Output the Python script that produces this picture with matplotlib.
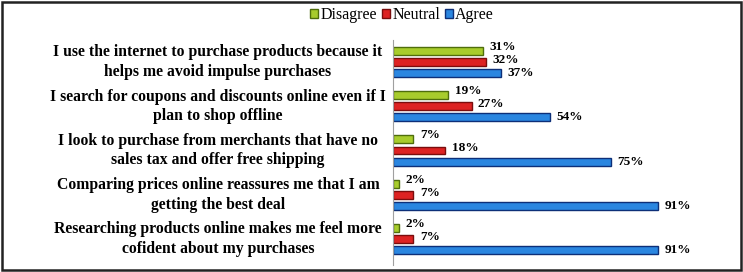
import numpy as np
import matplotlib.pyplot as plt
from matplotlib.patches import Rectangle

# survey statements (top to bottom)
statements = [
    "I use the internet to purchase products because it\nhelps me avoid impulse purchases",
    "I search for coupons and discounts online even if I\nplan to shop offline",
    "I look to purchase from merchants that have no\nsales tax and offer free shipping",
    "Comparing prices online reassures me that I am\ngetting the best deal",
    "Researching products online makes me feel more\ncofident about my purchases",
]
disagree = [31, 19, 7, 2, 2]
neutral = [32, 27, 18, 7, 7]
agree = [37, 54, 75, 91, 91]

series_names = ["Disagree", "Neutral", "Agree"]
face_colors = ["#a8cc2c", "#dd2222", "#2a86e0"]
edge_colors = ["#4f6e0c", "#7a0d0d", "#0d2f78"]

plt.rcParams["font.family"] = ["Liberation Serif", "DejaVu Serif"]

fig = plt.figure(figsize=(7.43, 2.72), dpi=100)
ax = fig.add_axes([393 / 743, 7 / 272, 307 / 743, 225 / 272])

y = np.arange(len(statements))
step = 0.25
height = 0.18
offsets = [-step, 0, step]
label_dy = [-0.09, -0.05, 0.0]

for k, vals in enumerate([disagree, neutral, agree]):
    ypos = y + offsets[k]
    ax.barh(ypos, vals, height=height, color=face_colors[k],
            edgecolor=edge_colors[k], linewidth=1.0, label=series_names[k])
    for yy, v in zip(ypos, vals):
        ax.text(v + 2.2, yy + label_dy[k], f"{v}%", va="center", ha="left",
                fontsize=9.5, fontweight="bold")

ax.set_xlim(0, 105.5)
ax.set_ylim(4.59, -0.5)
ax.set_xticks([])
ax.set_yticks([])
for s in ["top", "right", "bottom"]:
    ax.spines[s].set_visible(False)
ax.spines["left"].set_color("#a0a0a0")
ax.spines["left"].set_linewidth(0.8)

# category labels, centered in the left area
trans = ax.get_yaxis_transform()
for yy, txt in zip(y, statements):
    ax.text(-(393 - 218) / 307, yy, txt, transform=trans, ha="center",
            va="center", multialignment="center", fontsize=11.3,
            fontweight="bold", linespacing=1.3)

handles = [Rectangle((0, 0), 1, 1, facecolor=face_colors[k],
                     edgecolor=edge_colors[k]) for k in range(3)]
fig.legend(handles, series_names, loc="center", bbox_to_anchor=(402 / 743, 1 - 15 / 272),
           ncol=3, frameon=False, fontsize=11.5, handlelength=0.5, handleheight=0.5,
           handletextpad=0.15, columnspacing=0.3, borderaxespad=0)

# outer frame
fig.patches.append(Rectangle((0.003, 0.006), 0.994, 0.988, transform=fig.transFigure,
                             fill=False, edgecolor="#222222", linewidth=1.8))

fig.savefig("out.png", dpi=100)
